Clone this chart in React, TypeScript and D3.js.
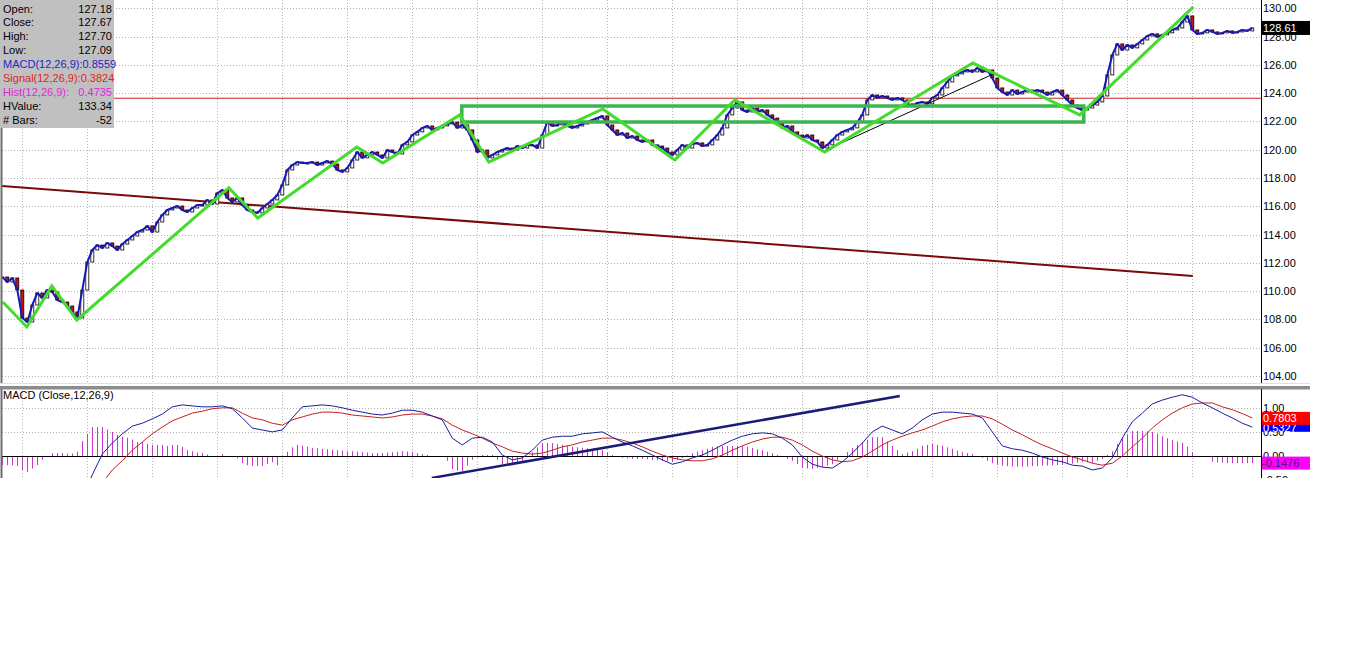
import React from 'react';
import * as d3 from 'd3';

// ---------- DATA ----------
const closes = [
  111.00,110.65,110.93,110.08,108.10,107.82,109.02,109.87,109.52,110.08,
  109.94,109.37,109.23,108.95,108.53,108.10,110.08,112.06,112.91,113.26,
  113.05,113.41,113.19,112.91,113.33,113.62,113.90,114.18,114.32,114.61,
  114.18,114.89,115.39,115.74,115.88,116.02,115.74,115.60,115.88,116.09,
  116.09,116.45,116.16,116.94,117.15,116.59,116.30,116.59,116.09,115.74,
  115.60,115.53,115.88,116.16,116.45,116.80,117.51,118.57,118.92,119.13,
  119.06,119.06,119.13,118.92,119.06,119.20,118.99,118.57,118.43,118.71,
  119.27,119.84,119.42,119.63,119.84,119.63,119.42,119.98,119.84,119.70,
  120.34,120.55,121.04,121.26,121.54,121.68,121.40,121.54,121.68,121.82,
  121.96,121.54,121.75,121.40,120.69,119.84,119.98,119.42,119.63,119.84,
  119.98,120.12,119.98,120.26,120.12,120.34,120.34,120.12,121.04,121.96,
  121.68,121.75,121.96,121.68,121.54,121.68,121.82,121.96,122.10,122.24,
  122.39,121.75,121.40,121.04,121.18,120.83,120.97,120.69,120.55,120.69,
  120.34,120.26,120.12,119.84,119.63,119.98,120.34,120.12,120.41,120.48,
  120.26,120.34,120.69,121.04,121.54,122.46,122.95,123.38,122.81,122.67,
  122.95,122.67,122.81,122.46,122.24,121.96,121.54,121.68,121.26,121.04,
  120.83,121.04,120.69,120.55,120.12,120.34,120.69,121.04,121.26,121.40,
  121.54,121.96,122.46,123.52,123.87,123.66,123.80,123.66,123.52,123.66,
  123.52,123.24,123.09,123.31,123.38,123.24,123.66,123.87,124.37,124.79,
  125.22,125.36,125.50,125.64,125.50,125.78,125.50,125.64,125.07,124.37,
  124.08,123.87,124.22,123.94,124.08,124.22,124.08,124.22,124.08,123.87,
  124.08,124.22,123.87,123.52,123.16,122.95,122.81,122.95,123.16,123.38,
  123.80,125.29,126.70,127.48,127.05,127.41,127.20,127.48,127.76,128.04,
  128.19,127.97,128.12,128.26,128.47,128.61,129.03,129.46,128.47,128.19,
  128.26,128.47,128.33,128.19,128.26,128.40,128.26,128.33,128.47,128.40,
  128.61,
];

// MACD and signal, one value every second bar (bar index = 2*k)
const macdEven = [
  -1.24,-1.29,-1.44,-1.46,-1.30,-1.16,-1.15,-1.15,-0.84,-0.39,
  0.04,0.27,0.46,0.62,0.68,0.77,0.87,1.02,1.06,1.04,
  1.02,1.02,1.04,0.98,0.79,0.58,0.54,0.50,0.54,0.79,
  1.02,1.04,1.06,1.04,1.00,0.95,0.91,0.87,0.85,0.89,
  0.95,0.95,0.91,0.83,0.75,0.37,0.23,0.37,0.39,0.29,
  0.02,-0.08,-0.04,0.12,0.33,0.39,0.41,0.41,0.46,0.48,
  0.50,0.39,0.29,0.21,0.12,0.02,-0.08,-0.17,-0.12,-0.04,
  0.02,0.12,0.23,0.33,0.41,0.46,0.48,0.46,0.37,0.23,
  -0.02,-0.17,-0.23,-0.25,-0.12,0.06,0.27,0.50,0.62,0.54,
  0.46,0.58,0.75,0.87,0.91,0.91,0.89,0.87,0.79,0.50,
  0.21,0.15,0.12,0.06,-0.02,-0.08,-0.12,-0.19,-0.21,-0.29,
  -0.25,-0.04,0.37,0.71,0.89,1.08,1.16,1.22,1.27,1.22,
  1.10,1.00,0.89,0.79,0.68,0.60,
];
const signalEven = [
  -1.05,-1.10,-1.15,-1.20,-1.22,-1.22,-1.21,-1.20,-1.15,-0.99,
  -0.56,-0.29,-0.10,0.12,0.29,0.46,0.60,0.73,0.81,0.89,
  0.93,0.98,1.00,1.00,0.89,0.79,0.75,0.68,0.64,0.75,
  0.81,0.87,0.91,0.91,0.89,0.85,0.83,0.81,0.79,0.81,
  0.85,0.87,0.87,0.83,0.77,0.64,0.54,0.46,0.37,0.27,
  0.19,0.10,0.06,0.04,0.06,0.12,0.19,0.23,0.29,0.33,
  0.37,0.37,0.33,0.27,0.19,0.10,0.02,-0.04,-0.08,-0.10,
  -0.10,-0.06,0.02,0.12,0.21,0.29,0.35,0.39,0.39,0.33,
  0.23,0.10,0.00,-0.08,-0.12,-0.10,-0.02,0.10,0.23,0.33,
  0.41,0.48,0.54,0.62,0.71,0.77,0.81,0.83,0.83,0.77,
  0.66,0.54,0.44,0.33,0.23,0.15,0.06,-0.02,-0.08,-0.15,
  -0.19,-0.15,0.00,0.19,0.37,0.58,0.75,0.89,1.00,1.08,
  1.10,1.10,1.02,0.96,0.88,0.79,
];
const hist = [
  -0.19,-0.19,-0.19,-0.21,-0.29,-0.33,-0.26,-0.19,-0.08,0,
  0.06,0.06,0.06,0.05,0.05,0.09,0.31,0.46,0.60,0.60,
  0.60,0.55,0.50,0.44,0.40,0.38,0.34,0.29,0.29,0.25,
  0.23,0.23,0.23,0.21,0.23,0.23,0.19,0.12,0.10,0.07,
  0.06,0.03,0,0,0.04,0,0,-0.05,-0.15,-0.19,
  -0.21,-0.21,-0.21,-0.17,-0.13,-0.19,0,0.09,0.18,0.23,
  0.21,0.19,0.17,0.16,0.15,0.14,0.13,0.12,0.11,0.10,
  0.10,0.09,0.08,0.07,0.06,0.06,0.06,0.07,0.08,0.09,
  0.10,0.09,0.08,0.06,0.04,0.02,0,-0.01,-0.02,-0.10,
  -0.27,-0.30,-0.31,-0.20,-0.08,-0.03,0.02,0.02,0.02,-0.08,
  -0.17,-0.18,-0.19,-0.15,-0.10,0,0.08,0.18,0.27,0.27,
  0.27,0.25,0.23,0.21,0.19,0.18,0.17,0.16,0.15,0.13,
  0.12,0.07,0.02,-0.01,-0.04,-0.05,-0.06,-0.06,-0.06,-0.07,
  -0.08,-0.09,-0.10,-0.11,-0.12,-0.08,-0.04,0.01,0.06,0.09,
  0.12,0.15,0.19,0.20,0.21,0.21,0.21,0.21,0.21,0.19,
  0.17,0.14,0.12,0.09,0.06,0.02,-0.02,-0.06,-0.10,-0.17,
  -0.25,-0.26,-0.27,-0.25,-0.23,-0.20,-0.17,-0.08,0,0.08,
  0.17,0.23,0.29,0.34,0.39,0.39,0.39,0.30,0.21,0.12,
  0.04,0.07,0.10,0.15,0.21,0.23,0.25,0.23,0.21,0.18,
  0.15,0.11,0.08,0.06,0.04,0,-0.04,-0.10,-0.15,-0.18,
  -0.20,-0.21,-0.22,-0.22,-0.22,-0.22,-0.21,-0.21,-0.20,-0.20,
  -0.19,-0.19,-0.18,-0.17,-0.16,-0.14,-0.12,-0.13,-0.14,-0.10,
  -0.06,0.02,0.10,0.25,0.37,0.45,0.52,0.52,0.52,0.51,
  0.50,0.46,0.41,0.37,0.33,0.30,0.27,0.19,0.08,0,
  0,0,-0.12,-0.13,-0.14,-0.15,-0.15,-0.15,-0.15,-0.15,
  -0.15,
];

const priceTicks = [104,106,108,110,112,114,116,118,120,122,124,126,128,130];
const macdTicks = [-0.5, 0, 0.5, 1.0];
const gridBars = [4,17,30,43,56,69,82,95,108,121,134,147,160,173,186,199,212,225,238];

// drawn annotations, as [bar index, price]
const zigzag: [number, number][] = [
  [0.1,109.23],[4.9,107.47],[9.9,110.37],[14.9,107.96],[45.3,117.3],[51.1,115.17],
  [70.9,120.19],[76.1,119.06],[91.5,122.46],[97.3,119.13],[120.1,122.88],[134.5,119.27],
  [146.5,123.52],[164.5,119.84],[194.1,126.13],[215.5,122.46],[238.2,130.1],
];
const boxBars = [91.9, 216.3];
const boxPrices = [121.96, 123.09];
const maroonTrend: [number, number][] = [[-0.5,117.45],[238.1,111.07]];
const thinTrend: [number, number][] = [[164.7,119.98],[198.7,125.43]];
const hLinePrice = 123.64;
const macdTrend: [number, number][] = [[85.9,-0.456],[179.5,1.245]];

const infoLabels = ['Open:', 'Close:', 'High:', 'Low:', 'MACD(12,26,9):0.8559', 'Signal(12,26,9):0.3824', 'Hist(12,26,9):', 'HValue:', '# Bars:'];
const infoValues = ['127.18', '127.67', '127.70', '127.09', '', '', '0.4735', '133.34', '-52'];
const infoColors = ['#000', '#000', '#000', '#000', '#2424c8', '#e02424', '#e024e0', '#000', '#000'];

const lastPrice = 128.61;
const macdLast = 0.5327;
const signalLast = 0.7803;
const histLast = -0.1476;

// ---------- LAYOUT ----------
const FONT = '"Liberation Sans", Arial, sans-serif';
const X_LEFT = 2;
const X_AXIS = 1261;
const PRICE_BOTTOM = 383;
const MACD_TOP = 389;
const MACD_BOTTOM = 478;

export default function App() {
  const x = d3.scaleLinear().domain([0, 250]).range([2.3, 1252.3]);
  const y = d3.scaleLinear().domain([104, 130]).range([376, 8.3]);
  const ym = d3.scaleLinear().domain([0, 1]).range([456, 407.8]);

  const closeLine = d3.line<number>().x((_, i) => x(i)).y((d) => y(d))(closes) || '';
  const macdPath = d3.line<number>().x((_, k) => x(2 * k)).y((d) => ym(d))(macdEven) || '';
  const sigPath = d3.line<number>().x((_, k) => x(2 * k)).y((d) => ym(d))(signalEven) || '';
  const zz = d3.line<[number, number]>().x((d) => x(d[0])).y((d) => y(d[1]))(zigzag) || '';

  const candles = closes.map((c, i) => {
    const o = i === 0 ? c : closes[i - 1];
    const top = y(Math.max(o, c));
    const bot = y(Math.min(o, c));
    return { x: x(i), top, h: Math.max(bot - top, 1), down: c < o };
  });

  return (
    <svg width={1360} height={653} style={{ position: 'absolute', left: 0, top: 0, background: '#fff' }} fontFamily={FONT}>
      <defs>
        <clipPath id="pclip"><rect x={X_LEFT} y={0} width={X_AXIS - X_LEFT} height={PRICE_BOTTOM} /></clipPath>
        <clipPath id="mclip"><rect x={X_LEFT} y={MACD_TOP} width={X_AXIS - X_LEFT} height={MACD_BOTTOM - MACD_TOP} /></clipPath>
        <clipPath id="aclip"><rect x={X_AXIS} y={MACD_TOP} width={60} height={MACD_BOTTOM - MACD_TOP} /></clipPath>
      </defs>
      <rect x={0} y={0} width={1360} height={653} fill="#fff" />

      {/* price panel grid */}
      <g clipPath="url(#pclip)">
        {priceTicks.map((t) => (
          <line key={'h' + t} x1={X_LEFT} x2={X_AXIS} y1={Math.round(y(t)) + 0.5} y2={Math.round(y(t)) + 0.5} stroke="#b4b4b4" strokeDasharray="1,2" />
        ))}
        {gridBars.map((b) => (
          <line key={'v' + b} x1={Math.round(x(b)) + 0.5} x2={Math.round(x(b)) + 0.5} y1={0} y2={PRICE_BOTTOM} stroke="#b4b4b4" strokeDasharray="1,2" />
        ))}
        <line x1={X_LEFT} x2={X_AXIS} y1={y(hLinePrice)} y2={y(hLinePrice)} stroke="#d02020" strokeWidth={1} />
        <line x1={x(maroonTrend[0][0])} y1={y(maroonTrend[0][1])} x2={x(maroonTrend[1][0])} y2={y(maroonTrend[1][1])} stroke="#7a0a0a" strokeWidth={2} />
        {candles.map((c, i) => (
          <rect key={'c' + i} x={c.x - 1.5} y={c.top} width={3} height={c.h} fill={c.down ? '#c81414' : '#fff'} stroke="#000" strokeWidth={0.8} />
        ))}
        <path d={closeLine} fill="none" stroke="#1818b4" strokeWidth={2} strokeLinejoin="round" />
        <line x1={x(thinTrend[0][0])} y1={y(thinTrend[0][1])} x2={x(thinTrend[1][0])} y2={y(thinTrend[1][1])} stroke="#000" strokeWidth={1} />
        <rect x={x(boxBars[0])} y={y(boxPrices[1])} width={x(boxBars[1]) - x(boxBars[0])} height={y(boxPrices[0]) - y(boxPrices[1])} fill="none" stroke="#3cb450" strokeWidth={3.5} />
        <path d={zz} fill="none" stroke="#44dc2c" strokeWidth={3} strokeLinejoin="miter" />
      </g>

      {/* panel separator */}
      <line x1={0} x2={1310} y1={383.5} y2={383.5} stroke="#e0e0e0" />
      <rect x={0} y={386} width={1310} height={3.5} fill="#8c8c8c" />

      {/* MACD panel */}
      <g clipPath="url(#mclip)">
        {macdTicks.filter((t) => t !== 0).map((t) => (
          <line key={'mh' + t} x1={X_LEFT} x2={X_AXIS} y1={Math.round(ym(t)) + 0.5} y2={Math.round(ym(t)) + 0.5} stroke="#b4b4b4" strokeDasharray="1,2" />
        ))}
        {gridBars.map((b) => (
          <line key={'mv' + b} x1={Math.round(x(b)) + 0.5} x2={Math.round(x(b)) + 0.5} y1={MACD_TOP} y2={MACD_BOTTOM} stroke="#b4b4b4" strokeDasharray="1,2" />
        ))}
        {hist.map((h, i) => (
          h === 0 ? null : <line key={'hb' + i} x1={Math.round(x(i)) + 0.5} x2={Math.round(x(i)) + 0.5} y1={ym(0)} y2={ym(h)} stroke="#cc33cc" strokeWidth={1} />
        ))}
        <line x1={X_LEFT} x2={X_AXIS} y1={Math.round(ym(0)) + 0.5} y2={Math.round(ym(0)) + 0.5} stroke="#000" />
        <path d={sigPath} fill="none" stroke="#c42020" strokeWidth={1} />
        <path d={macdPath} fill="none" stroke="#1c1ca0" strokeWidth={1} />
        <line x1={x(macdTrend[0][0])} y1={ym(macdTrend[0][1])} x2={x(macdTrend[1][0])} y2={ym(macdTrend[1][1])} stroke="#1c1c78" strokeWidth={2.5} />
      </g>
      <text x={3} y={395} fontSize={11} dominantBaseline="central" fill="#000">MACD (Close,12,26,9)</text>

      {/* left border */}
      <line x1={1.5} x2={1.5} y1={0} y2={PRICE_BOTTOM} stroke="#6e6e6e" strokeWidth={2} />
      <line x1={1.5} x2={1.5} y1={MACD_TOP} y2={MACD_BOTTOM} stroke="#6e6e6e" strokeWidth={2} />

      {/* right axes */}
      <line x1={X_AXIS + 0.5} x2={X_AXIS + 0.5} y1={0} y2={PRICE_BOTTOM} stroke="#000" />
      <line x1={X_AXIS + 0.5} x2={X_AXIS + 0.5} y1={MACD_TOP} y2={MACD_BOTTOM} stroke="#000" />
      {priceTicks.map((t) => (
        <text key={'pt' + t} x={X_AXIS + 2} y={y(t)} fontSize={11} dominantBaseline="central" fill="#000">{t.toFixed(2)}</text>
      ))}
      <rect x={X_AXIS + 1} y={y(lastPrice) - 7} width={48} height={14} fill="#000" />
      <text x={X_AXIS + 2} y={y(lastPrice)} fontSize={11} dominantBaseline="central" fill="#fff">{lastPrice.toFixed(2)}</text>

      <g clipPath="url(#aclip)">
        {macdTicks.map((t) => (
          <text key={'mt' + t} x={X_AXIS + 2} y={ym(t)} fontSize={11} dominantBaseline="central" fill="#000">{t.toFixed(2)}</text>
        ))}
        <rect x={X_AXIS + 1} y={ym(macdLast) - 6.5} width={48} height={8} fill="#0000ff" />
        <text x={X_AXIS + 2} y={ym(macdLast) - 2} fontSize={11} dominantBaseline="central" fill="#fff">{macdLast.toFixed(4)}</text>
        <rect x={X_AXIS + 1} y={ym(signalLast) - 6.5} width={48} height={13} fill="#ff0000" />
        <text x={X_AXIS + 2} y={ym(signalLast)} fontSize={11} dominantBaseline="central" fill="#fff">{signalLast.toFixed(4)}</text>
        <rect x={X_AXIS + 1} y={ym(histLast) - 6.5} width={48} height={13} fill="#ff00ff" />
        <text x={X_AXIS + 1} y={ym(histLast)} fontSize={11} dominantBaseline="central" fill="#4a1a70">{histLast.toFixed(4)}</text>
      </g>

      {/* info box */}
      <rect x={0} y={0} width={114} height={128} fill="#c0c0c0" />
      {infoLabels.map((l, i) => (
        <g key={'info' + i}>
          <text x={3} y={8.5 + i * 13.9} fontSize={11} dominantBaseline="central" fill={infoColors[i]}>{l}</text>
          {infoValues[i] && (
            <text x={112} y={8.5 + i * 13.9} fontSize={11} dominantBaseline="central" textAnchor="end" fill={infoColors[i]}>{infoValues[i]}</text>
          )}
        </g>
      ))}
    </svg>
  );
}
